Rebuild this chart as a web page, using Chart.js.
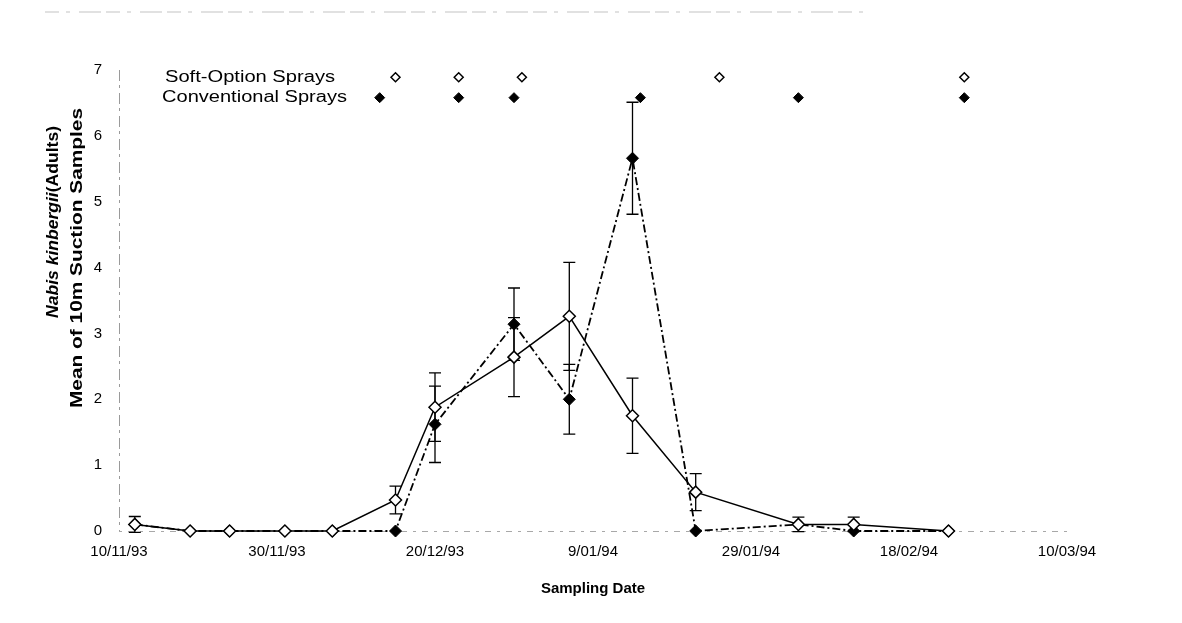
<!DOCTYPE html>
<html>
<head>
<meta charset="utf-8">
<script src="https://cdn.jsdelivr.net/npm/chart.js@4/dist/chart.umd.min.js"></script>
<style>
  html, body { margin: 0; padding: 0; background: #fff; }
  canvas { display: block; }
</style>
</head>
<body>
<canvas id="chart" width="1182" height="623"></canvas>
<script>
// Sampling dates (d/mm/yy) and mean adults per 10 m suction sample
const sampleDates = ['12/11/93', '19/11/93', '24/11/93', '1/12/93', '7/12/93', '15/12/93', '20/12/93',
                     '30/12/93', '6/01/94', '14/01/94', '22/01/94', '4/02/94', '11/02/94', '23/02/94'];
const softMean = [0.1, 0, 0, 0, 0, 0.47, 1.88, 2.64, 3.26, 1.75, 0.59, 0.1, 0.1, 0];
const softErr  = [0.12, null, null, null, null, 0.21, 0.52, 0.6, 0.82, 0.57, 0.28, 0.11, 0.11, null];
const convMean = [0.1, 0, 0, 0, 0, 0, 1.62, 3.14, 2.0, 5.66, 0, 0.1, 0, 0];
const convErr  = [null, null, null, null, null, null, 0.58, 0.55, 0.53, 0.85, null, null, null, null];

// Spray application dates for each programme
const softSprays = ['15/12/93', '23/12/93', '31/12/93', '25/01/94', '25/02/94'];
const convSprays = ['13/12/93', '23/12/93', '30/12/93', '15/01/94', '4/02/94', '25/02/94'];

// Axis tick labels
const xTickLabels = ['10/11/93', '30/11/93', '20/12/93', '9/01/94', '29/01/94', '18/02/94', '10/03/94'];
const yTicks = [0, 1, 2, 3, 4, 5, 6, 7];

// Rows (in y units) where the spray markers sit
const SOFT_ROW = 6.89;
const CONV_ROW = 6.58;

const FONT = 'Arial, "Liberation Sans", Helvetica, sans-serif';
const ORIGIN = Date.UTC(1993, 10, 10);

function dayOf(s) {
  const [d, m, y] = s.split('/').map(Number);
  return Math.round((Date.UTC(1900 + y, m - 1, d) - ORIGIN) / 86400000);
}

const days = sampleDates.map(dayOf);
const pts = (vals) => vals.map((v, i) => ({ x: days[i], y: v }));
const sprayPts = (dates, row) => dates.map(d => ({ x: dayOf(d), y: row }));

// Broken grey axis lines, then vertical error bars with caps beneath the markers
const errorBars = {
  id: 'errorBars',
  beforeDatasetsDraw(chart) {
    const { ctx, chartArea: a, scales: { x, y } } = chart;
    ctx.save();
    ctx.lineWidth = 1;
    ctx.strokeStyle = '#9a9a9a';
    ctx.setLineDash([11, 4, 3, 5]);
    ctx.beginPath();
    ctx.moveTo(a.left + 0.5, a.top); ctx.lineTo(a.left + 0.5, a.bottom);
    ctx.stroke();
    ctx.strokeStyle = '#a8a8a8';
    ctx.setLineDash([3, 6, 6, 6]);
    ctx.beginPath();
    ctx.moveTo(a.left, a.bottom + 0.5); ctx.lineTo(a.right, a.bottom + 0.5);
    ctx.stroke();
    ctx.restore();

    const series = [[softMean, softErr], [convMean, convErr]];
    ctx.save();
    ctx.strokeStyle = '#000';
    ctx.lineWidth = 1.3;
    series.forEach(([mean, err]) => {
      mean.forEach((m, i) => {
        if (err[i] == null) return;
        const px = x.getPixelForValue(days[i]);
        const top = y.getPixelForValue(m + err[i]);
        const bot = y.getPixelForValue(m - err[i]);
        ctx.beginPath();
        ctx.moveTo(px, top); ctx.lineTo(px, bot);
        ctx.moveTo(px - 6, top); ctx.lineTo(px + 6, top);
        ctx.moveTo(px - 6, bot); ctx.lineTo(px + 6, bot);
        ctx.stroke();
      });
    });
    ctx.restore();
  }
};

// Text drawn with a horizontal stretch so it spans a given length
function stretchedText(ctx, parts, cx, cy, length, align) {
  let total = 0;
  parts.forEach(p => { ctx.font = p.font; p.w = ctx.measureText(p.text).width; total += p.w; });
  const s = length / total;
  ctx.save();
  ctx.translate(cx, cy);
  ctx.scale(s, 1);
  let pos = align === 'left' ? 0 : -total / 2;
  ctx.textBaseline = 'middle';
  ctx.textAlign = 'left';
  ctx.fillStyle = '#000';
  parts.forEach(p => { ctx.font = p.font; ctx.fillText(p.text, pos, 0); pos += p.w; });
  ctx.restore();
}

// Spray row labels, y-axis title and the faint top rule
const annotations = {
  id: 'annotations',
  afterDraw(chart) {
    const { ctx, scales: { y } } = chart;
    stretchedText(ctx, [{ text: 'Soft-Option Sprays', font: '16px ' + FONT }], 165, y.getPixelForValue(SOFT_ROW), 170, 'left');
    stretchedText(ctx, [{ text: 'Conventional Sprays', font: '16px ' + FONT }], 162, y.getPixelForValue(CONV_ROW), 185, 'left');

    ctx.save();
    ctx.translate(53, 222);
    ctx.rotate(-Math.PI / 2);
    stretchedText(ctx, [
      { text: 'Nabis kinbergii', font: 'italic bold 17px ' + FONT },
      { text: '(Adults)', font: 'bold 17px ' + FONT }
    ], 0, 0, 192, 'center');
    ctx.restore();

    ctx.save();
    ctx.translate(77, 258);
    ctx.rotate(-Math.PI / 2);
    stretchedText(ctx, [{ text: 'Mean of 10m Suction Samples', font: 'bold 17px ' + FONT }], 0, 0, 300, 'center');
    ctx.restore();

    ctx.save();
    ctx.strokeStyle = '#c4c4c4';
    ctx.lineWidth = 1.2;
    ctx.setLineDash([14, 7, 4, 9, 22, 5]);
    ctx.beginPath();
    ctx.moveTo(45, 12); ctx.lineTo(870, 12);
    ctx.stroke();
    ctx.restore();
  }
};

new Chart(document.getElementById('chart').getContext('2d'), {
  type: 'scatter',
  data: {
    datasets: [
      {
        label: 'Soft-Option',
        data: pts(softMean),
        showLine: true,
        clip: false,
        borderColor: '#000',
        borderWidth: 1.5,
        pointStyle: 'rectRot',
        pointRadius: 6,
        pointBackgroundColor: '#fff',
        pointBorderColor: '#000',
        pointBorderWidth: 1.5
      },
      {
        label: 'Conventional',
        data: pts(convMean),
        showLine: true,
        clip: false,
        borderColor: '#000',
        borderWidth: 1.8,
        borderDash: [8, 3, 2, 3],
        pointStyle: 'rectRot',
        pointRadius: 6,
        pointBackgroundColor: '#000',
        pointBorderColor: '#000',
        pointBorderWidth: 1
      },
      {
        label: 'Soft-Option Sprays',
        data: sprayPts(softSprays, SOFT_ROW),
        showLine: false,
        clip: false,
        pointStyle: 'rectRot',
        pointRadius: 4.5,
        pointBackgroundColor: '#fff',
        pointBorderColor: '#000',
        pointBorderWidth: 1.5
      },
      {
        label: 'Conventional Sprays',
        data: sprayPts(convSprays, CONV_ROW),
        showLine: false,
        clip: false,
        pointStyle: 'rectRot',
        pointRadius: 5,
        pointBackgroundColor: '#000',
        pointBorderColor: '#000',
        pointBorderWidth: 1
      }
    ]
  },
  options: {
    responsive: false,
    animation: false,
    devicePixelRatio: 1,
    layout: { padding: { top: 70, left: 0, right: 115, bottom: 0 } },
    plugins: { legend: { display: false }, tooltip: { enabled: false } },
    scales: {
      x: {
        type: 'linear',
        min: dayOf(xTickLabels[0]),
        max: dayOf(xTickLabels[xTickLabels.length - 1]),
        afterBuildTicks: (s) => { s.ticks = xTickLabels.map(l => ({ value: dayOf(l) })); },
        ticks: {
          callback: (v) => xTickLabels.find(l => dayOf(l) === v) || '',
          font: { family: FONT, size: 15 },
          color: '#000',
          padding: 12,
          maxRotation: 0,
          autoSkip: false
        },
        grid: { display: false, drawTicks: false },
        border: { display: false },
        title: {
          display: true,
          text: 'Sampling Date',
          color: '#000',
          font: { family: FONT, size: 15, weight: 'bold' },
          padding: { top: 0, bottom: 25 }
        },
        afterFit: (s) => { s.height = 92; }
      },
      y: {
        min: yTicks[0],
        max: yTicks[yTicks.length - 1],
        afterBuildTicks: (s) => { s.ticks = yTicks.map(v => ({ value: v })); },
        ticks: { font: { family: FONT, size: 15 }, color: '#000', padding: 17 },
        grid: { display: false, drawTicks: false },
        border: { display: false },
        afterFit: (s) => { s.width = 119; }
      }
    }
  },
  plugins: [errorBars, annotations]
});
</script>
</body>
</html>
